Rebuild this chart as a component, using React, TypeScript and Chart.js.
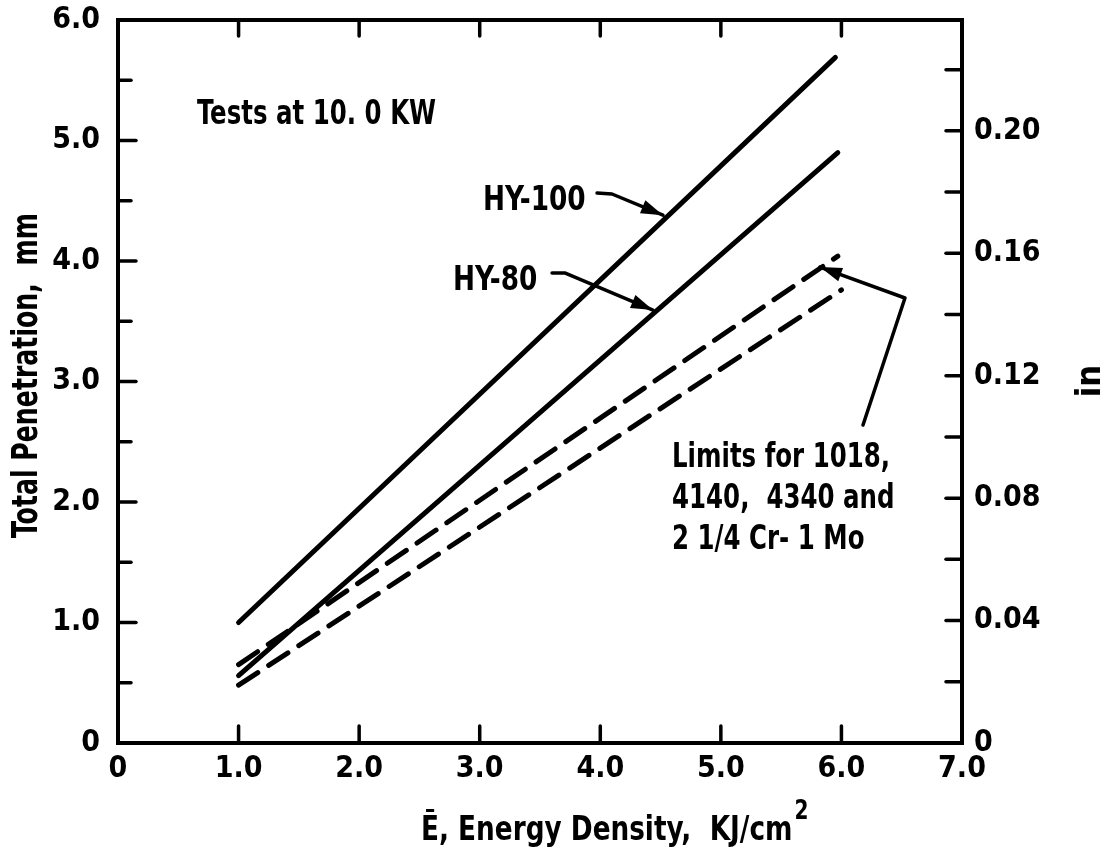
import React, { useEffect, useRef } from 'react';
import { Chart, registerables } from 'chart.js';

Chart.register(...registerables);

const FONT = "'Liberation Sans Narrow', 'DejaVu Sans Condensed', 'Arial Narrow', sans-serif";

// ---- data ----
const hy100X = [1.0, 5.95];
const hy100Y = [1.0, 5.69];
const hy80X = [1.0, 5.97];
const hy80Y = [0.56, 4.9];
const limitUpperX = [1.0, 5.97];
const limitUpperY = [0.65, 4.04];
const limitLowerX = [1.0, 6.0];
const limitLowerY = [0.48, 3.76];

// annotation anchors (data units)
const hy100ArrowX = [3.973, 4.097, 4.52];
const hy100ArrowY = [4.564, 4.556, 4.38];
const hy80ArrowX = [3.6, 3.71, 4.437];
const hy80ArrowY = [3.9, 3.9, 3.593];
const limitsArrowX = [6.179, 6.527, 5.822];
const limitsArrowY = [2.639, 3.693, 3.95];

const noteTexts = ['Tests at 10. 0 KW', 'HY-100', 'HY-80', 'Limits for 1018,', '4140,  4340 and', '2 1/4 Cr- 1 Mo'];
const noteX = [0.655, 3.027, 2.778, 4.595, 4.595, 4.595];
const noteY = [5.137, 4.423, 3.759, 2.29, 1.95, 1.61];

const MM_PER_IN = 25.4;

const toPts = (xs: number[], ys: number[]) => xs.map((x, i) => ({ x, y: ys[i] }));

const fmt = (v: number) => (v === 0 ? '0' : v.toFixed(1));

const SX = 0.8; // horizontal squeeze to mimic the narrow lettering

const framePlugin = {
  id: 'frame',
  afterDraw(chart: any) {
    const { ctx, chartArea: a, scales } = chart;
    const xs = scales.x, ys = scales.y, y2 = scales.y2;
    const line = (x1: number, y1: number, x2: number, y2p: number) => {
      ctx.beginPath(); ctx.moveTo(x1, y1); ctx.lineTo(x2, y2p); ctx.stroke();
    };
    const text = (s: string, x: number, y: number, sx: number) => {
      ctx.save();
      ctx.translate(x, y);
      ctx.scale(sx, 1);
      ctx.fillText(s, 0, 0);
      const w = ctx.measureText(s).width * sx;
      ctx.restore();
      return w;
    };
    ctx.save();
    ctx.strokeStyle = '#000';
    ctx.fillStyle = '#000';
    ctx.lineWidth = 4;
    ctx.strokeRect(a.left, a.top, a.right - a.left, a.bottom - a.top);
    ctx.lineWidth = 3.5;
    ctx.lineCap = 'round';
    xs.ticks.forEach((t: any) => {
      if (t.value <= 0 || t.value >= 7) return;
      const px = xs.getPixelForValue(t.value);
      line(px, a.bottom, px, a.bottom - 17);
      line(px, a.top, px, a.top + 16);
    });
    ys.ticks.forEach((t: any) => {
      if (t.value <= 0 || t.value >= 6) return;
      const py = ys.getPixelForValue(t.value);
      const major = Math.abs(t.value - Math.round(t.value)) < 1e-6;
      line(a.left, py, a.left + (major ? 18 : 13), py);
    });
    y2.ticks.forEach((t: any) => {
      if (t.value <= 0) return;
      const py = y2.getPixelForValue(t.value);
      line(a.right, py, a.right - 16, py);
    });

    // arrows
    const arrow = (axs: number[], ays: number[]) => {
      const pts = axs.map((v, i) => [xs.getPixelForValue(v), ys.getPixelForValue(ays[i])]);
      ctx.lineWidth = 3.5;
      ctx.lineJoin = 'round';
      ctx.beginPath();
      ctx.moveTo(pts[0][0], pts[0][1]);
      for (let i = 1; i < pts.length; i++) ctx.lineTo(pts[i][0], pts[i][1]);
      ctx.stroke();
      const [tx, ty] = pts[pts.length - 1];
      const [px, py] = pts[pts.length - 2];
      const ang = Math.atan2(ty - py, tx - px);
      const L = 22, W = 7;
      ctx.beginPath();
      ctx.moveTo(tx, ty);
      ctx.lineTo(tx - L * Math.cos(ang) + W * Math.sin(ang), ty - L * Math.sin(ang) - W * Math.cos(ang));
      ctx.lineTo(tx - L * Math.cos(ang) - W * Math.sin(ang), ty - L * Math.sin(ang) + W * Math.cos(ang));
      ctx.closePath();
      ctx.fill();
    };
    arrow(hy100ArrowX, hy100ArrowY);
    arrow(hy80ArrowX, hy80ArrowY);
    arrow(limitsArrowX, limitsArrowY);

    // notes
    ctx.textAlign = 'left';
    ctx.textBaseline = 'alphabetic';
    ctx.font = `bold 34px ${FONT}`;
    noteTexts.forEach((s, i) => {
      text(s, xs.getPixelForValue(noteX[i]), ys.getPixelForValue(noteY[i]), i === 1 || i === 2 ? 0.86 : SX);
    });

    // axis titles
    ctx.save();
    ctx.translate(a.left - 90, (a.top + a.bottom) / 2 - 6);
    ctx.rotate(-Math.PI / 2);
    ctx.textAlign = 'center';
    ctx.textBaseline = 'middle';
    ctx.font = `bold 35px ${FONT}`;
    ctx.scale(SX, 1);
    ctx.fillText('Total Penetration,  mm', 0, 0);
    ctx.restore();

    ctx.save();
    ctx.translate(a.right + 129, 381);
    ctx.rotate(-Math.PI / 2);
    ctx.textAlign = 'center';
    ctx.textBaseline = 'middle';
    ctx.font = `bold 34px ${FONT}`;
    ctx.fillText('in', 0, 0);
    ctx.restore();

    ctx.font = `bold 34px ${FONT}`;
    ctx.textAlign = 'left';
    const bx = a.left + 303, by = a.bottom + 97;
    const w = text('Ē, Energy Density,  KJ/cm', bx, by, 0.86);
    ctx.font = `bold 26px ${FONT}`;
    text('2', bx + w + 2, by - 21, 0.86);
    ctx.restore();
  },
};

export default function App() {
  const ref = useRef<HTMLCanvasElement | null>(null);
  useEffect(() => {
    document.body.style.margin = '0';
    const canvas = ref.current;
    if (!canvas) return;
    const lineCommon = {
      borderColor: '#000',
      borderWidth: 5,
      pointRadius: 0,
      borderCapStyle: 'round' as const,
      fill: false,
      tension: 0,
    };
    const xTickFont = { family: FONT, size: 30, weight: 'bold', lineHeight: 1 };
    // tiny lineHeight keeps Chart.js from reserving extra room above the plot
    const yTickFont = { family: FONT, size: 30, weight: 'bold', lineHeight: 0.05 };
    const chart = new Chart(canvas, {
      type: 'line',
      data: {
        datasets: [
          { label: 'HY-100', data: toPts(hy100X, hy100Y), ...lineCommon },
          { label: 'HY-80', data: toPts(hy80X, hy80Y), ...lineCommon },
          { label: 'Limit upper', data: toPts(limitUpperX, limitUpperY), ...lineCommon, borderDash: [23, 13] },
          { label: 'Limit lower', data: toPts(limitLowerX, limitLowerY), ...lineCommon, borderDash: [23, 13] },
        ],
      },
      options: {
        animation: false,
        responsive: true,
        maintainAspectRatio: false,
        layout: { padding: { top: 20, left: 0, right: 0, bottom: 0 } },
        plugins: { legend: { display: false }, tooltip: { enabled: false }, title: { display: false } },
        scales: {
          x: {
            type: 'linear',
            min: 0,
            max: 7,
            border: { display: false },
            grid: { display: false, drawTicks: false },
            ticks: {
              stepSize: 1,
              autoSkip: false,
              maxRotation: 0,
              padding: 11,
              color: '#000',
              font: xTickFont,
              callback: (v: any) => fmt(Number(v)),
            },
            afterFit: (s: any) => { s.height = 121; },
          },
          y: {
            type: 'linear',
            position: 'left',
            min: 0,
            max: 6,
            border: { display: false },
            grid: { display: false, drawTicks: false },
            ticks: {
              stepSize: 0.5,
              autoSkip: false,
              padding: 18,
              color: '#000',
              font: yTickFont,
              callback: (v: any) => {
                const n = Number(v);
                return Math.abs(n - Math.round(n)) < 1e-6 ? fmt(n) : '';
              },
            },
            afterFit: (s: any) => { s.width = 118; },
          },
          y2: {
            type: 'linear',
            position: 'right',
            min: 0,
            max: 6 / MM_PER_IN,
            border: { display: false },
            grid: { display: false, drawTicks: false },
            ticks: {
              stepSize: 0.02,
              includeBounds: false,
              autoSkip: false,
              padding: 12,
              color: '#000',
              font: yTickFont,
              callback: (v: any) => {
                const n = Math.round(Number(v) * 100);
                if (n === 0) return '0';
                return n % 4 === 0 ? '0.' + String(n).padStart(2, '0') : '';
              },
            },
            afterFit: (s: any) => { s.width = 147; },
          },
        },
      },
      plugins: [framePlugin],
    } as any);
    return () => chart.destroy();
  }, []);
  return (
    <div style={{ width: 1109, height: 864, position: 'relative', background: '#fff' }}>
      <canvas ref={ref} />
    </div>
  );
}
